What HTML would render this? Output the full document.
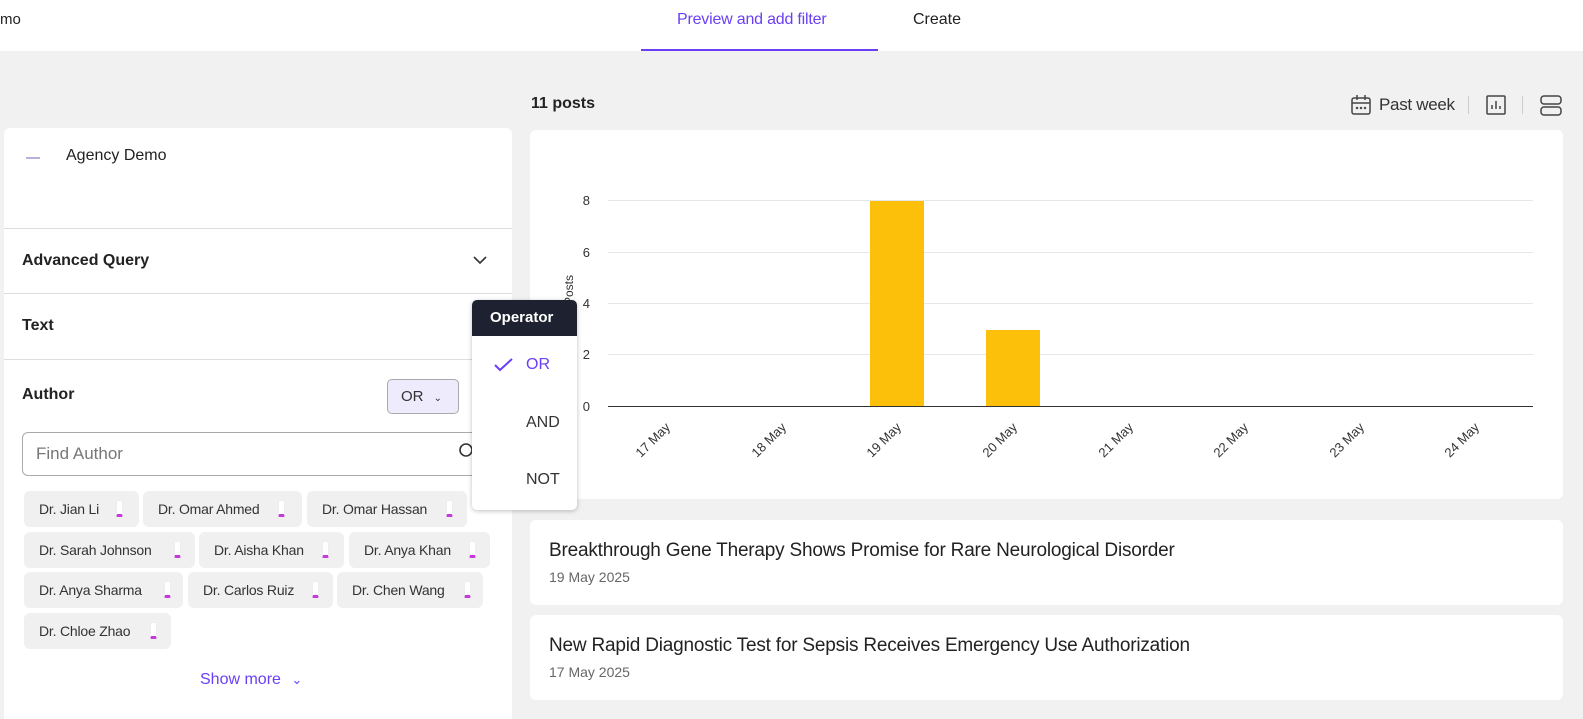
<!DOCTYPE html>
<html><head><meta charset="utf-8"><style>
*{box-sizing:border-box;margin:0;padding:0}
body{width:1583px;height:719px;overflow:hidden;background:#f1f1f1;font-family:"Liberation Sans",sans-serif;color:#222;position:relative}
.abs{position:absolute}
.top{left:0;top:0;width:1583px;height:51px;background:#fff}
.card{background:#fff;border-radius:6px}
.chip{position:absolute;height:36px;background:#f0f0f0;border-radius:6px;font-size:14px;color:#333;line-height:36px;padding-left:15px;letter-spacing:-0.2px}
.chip i{position:absolute;top:9px;width:7px;height:17px;border:1px solid #eee;border-bottom:3px solid #c43adb;background:#fff;border-radius:2px}
.hd{font-size:16px;font-weight:bold;color:#222}
.sep{height:1px;background:#ddd;left:4px;width:508px}
</style></head><body>
<div class="abs top"></div>
<div class="abs" style="left:0;top:11px;font-size:15px">mo</div>
<div class="abs" style="left:677px;top:11px;font-size:16px;color:#6a3ff5;letter-spacing:-0.2px">Preview and add filter</div>
<div class="abs" style="left:641px;top:49px;width:237px;height:2px;background:#6a3ff5"></div>
<div class="abs" style="left:913px;top:11px;font-size:16px;color:#222">Create</div>

<div class="abs" style="left:531px;top:95px;font-size:16px;font-weight:bold">11 posts</div>
<svg class="abs" style="left:1350px;top:94px" width="22" height="22" viewBox="0 0 22 22" fill="none" stroke="#444" stroke-width="1.5"><rect x="2" y="4" width="18" height="16" rx="2"/><line x1="2" y1="9" x2="20" y2="9"/><line x1="7" y1="1" x2="7" y2="6"/><line x1="15" y1="1" x2="15" y2="6"/><circle cx="7" cy="14" r=".5"/><circle cx="11" cy="14" r=".5"/><circle cx="15" cy="14" r=".5"/></svg>
<div class="abs" style="left:1379px;top:95px;font-size:17px;color:#333;letter-spacing:-0.3px">Past week</div>
<div class="abs" style="left:1468px;top:96px;width:1px;height:18px;background:#ccc"></div>
<svg class="abs" style="left:1486px;top:95px" width="20" height="20" fill="none" stroke="#444" stroke-width="1.5"><rect x="1" y="1" width="18" height="18" rx="1"/><line x1="6" y1="14" x2="6" y2="10"/><line x1="10" y1="14" x2="10" y2="6"/><line x1="14" y1="14" x2="14" y2="11"/></svg>
<div class="abs" style="left:1522px;top:96px;width:1px;height:18px;background:#ccc"></div>
<svg class="abs" style="left:1540px;top:95px" width="22" height="22" fill="none" stroke="#444" stroke-width="1.5"><rect x="1" y="1" width="20" height="8" rx="3"/><rect x="1" y="12" width="20" height="8" rx="3"/></svg>

<div class="abs card" style="left:4px;top:128px;width:508px;height:591px;border-radius:6px 6px 0 0"></div>
<div class="abs" style="left:26px;top:157px;width:14px;height:2px;background:#b8b0dd"></div>
<div class="abs" style="left:66px;top:147px;font-size:16px">Agency Demo</div>
<div class="abs sep" style="top:228px"></div>
<div class="abs hd" style="left:22px;top:252px">Advanced Query</div>
<svg class="abs" style="left:473px;top:255px" width="14" height="10" fill="none" stroke="#333" stroke-width="1.6"><polyline points="1,2 7,8 13,2"/></svg>
<div class="abs sep" style="top:293px"></div>
<div class="abs hd" style="left:22px;top:317px">Text</div>
<div class="abs sep" style="top:359px"></div>
<div class="abs hd" style="left:22px;top:386px">Author</div>
<div class="abs" style="left:387px;top:379px;width:72px;height:35px;background:#eeebfc;border:1px solid #aaa;border-radius:5px;font-size:15px;line-height:33px;padding-left:13px;color:#333">OR <span style="font-size:10px;margin-left:6px">&#8964;</span></div>
<div class="abs" style="left:22px;top:432px;width:480px;height:44px;border:1px solid #aaa;border-radius:6px;font-size:17px;color:#777;line-height:42px;padding-left:13px">Find Author</div>
<svg class="abs" style="left:458px;top:443px" width="16" height="16" fill="none" stroke="#333" stroke-width="1.6"><circle cx="8" cy="7" r="6"/></svg>

<div class="chip" style="left:24px;top:491px;width:115px">Dr. Jian Li<i style="left:92px"></i></div>
<div class="chip" style="left:143px;top:491px;width:159px">Dr. Omar Ahmed<i style="left:135px"></i></div>
<div class="chip" style="left:307px;top:491px;width:160px">Dr. Omar Hassan<i style="left:139px"></i></div>
<div class="chip" style="left:24px;top:532px;width:171px">Dr. Sarah Johnson<i style="left:150px"></i></div>
<div class="chip" style="left:199px;top:532px;width:145px">Dr. Aisha Khan<i style="left:123px"></i></div>
<div class="chip" style="left:349px;top:532px;width:141px">Dr. Anya Khan<i style="left:120px"></i></div>
<div class="chip" style="left:24px;top:572px;width:159px">Dr. Anya Sharma<i style="left:140px"></i></div>
<div class="chip" style="left:188px;top:572px;width:145px">Dr. Carlos Ruiz<i style="left:124px"></i></div>
<div class="chip" style="left:337px;top:572px;width:146px">Dr. Chen Wang<i style="left:127px"></i></div>
<div class="chip" style="left:24px;top:613px;width:147px">Dr. Chloe Zhao<i style="left:126px"></i></div>
<div class="abs" style="left:200px;top:671px;font-size:16px;color:#6a3ff5">Show more <span style="font-size:13px;margin-left:6px">&#8964;</span></div>

<div class="abs card" style="left:530px;top:130px;width:1033px;height:369px"></div>
<svg class="abs" style="left:530px;top:130px" width="1033" height="369" font-family="Liberation Sans,sans-serif" font-size="13" fill="#333">
<g stroke="#e6e6e6"><line x1="78" x2="1003" y1="70.5" y2="70.5"/><line x1="78" x2="1003" y1="122.5" y2="122.5"/><line x1="78" x2="1003" y1="173.5" y2="173.5"/><line x1="78" x2="1003" y1="224.5" y2="224.5"/></g>
<line x1="78" x2="1003" y1="276.5" y2="276.5" stroke="#333"/>
<text x="60" y="75" text-anchor="end">8</text><text x="60" y="127" text-anchor="end">6</text><text x="60" y="178" text-anchor="end">4</text><text x="60" y="229" text-anchor="end">2</text><text x="60" y="281" text-anchor="end">0</text>
<text transform="translate(43,160) rotate(-90)" text-anchor="middle" font-size="12">Posts</text>
<rect x="340" y="71" width="54" height="205" fill="#fdc00a"/>
<rect x="456" y="200" width="54" height="76" fill="#fdc00a"/>
<g text-anchor="end">
<text transform="translate(141,298) rotate(-45)">17 May</text>
<text transform="translate(257,298) rotate(-45)">18 May</text>
<text transform="translate(372,298) rotate(-45)">19 May</text>
<text transform="translate(488,298) rotate(-45)">20 May</text>
<text transform="translate(604,298) rotate(-45)">21 May</text>
<text transform="translate(719,298) rotate(-45)">22 May</text>
<text transform="translate(835,298) rotate(-45)">23 May</text>
<text transform="translate(950,298) rotate(-45)">24 May</text>
</g></svg>

<div class="abs card" style="left:530px;top:520px;width:1033px;height:85px"></div>
<div class="abs" style="left:549px;top:540px;font-size:19px;color:#222;letter-spacing:-0.2px">Breakthrough Gene Therapy Shows Promise for Rare Neurological Disorder</div>
<div class="abs" style="left:549px;top:569px;font-size:14px;color:#666">19 May 2025</div>
<div class="abs card" style="left:530px;top:615px;width:1033px;height:85px"></div>
<div class="abs" style="left:549px;top:635px;font-size:19px;color:#222;letter-spacing:-0.2px">New Rapid Diagnostic Test for Sepsis Receives Emergency Use Authorization</div>
<div class="abs" style="left:549px;top:664px;font-size:14px;color:#666">17 May 2025</div>

<div class="abs" style="left:472px;top:300px;width:105px;height:210px;background:#fff;border-radius:5px;box-shadow:0 1px 5px rgba(0,0,0,.25);overflow:hidden">
<div style="height:36px;background:#1e2230;color:#fff;font-size:15px;font-weight:bold;line-height:36px;padding-left:18px">Operator</div>
</div>
<svg class="abs" style="left:494px;top:358px" width="20" height="14" fill="none" stroke="#6a3ff5" stroke-width="2"><polyline points="1,7 6,12 18,1"/></svg>
<div class="abs" style="left:526px;top:356px;font-size:16px;color:#6a3ff5">OR</div>
<div class="abs" style="left:526px;top:414px;font-size:16px;color:#333">AND</div>
<div class="abs" style="left:526px;top:471px;font-size:16px;color:#333">NOT</div>
</body></html>
